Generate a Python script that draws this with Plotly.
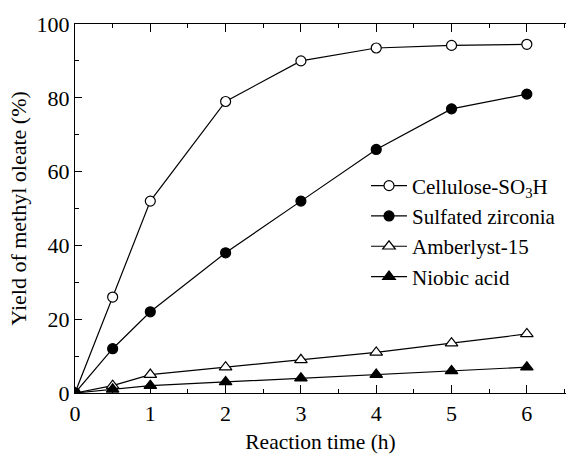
import plotly.graph_objects as go

time_h = [0, 0.5, 1, 2, 3, 4, 5, 6]
cellulose = [0, 26, 52, 79, 90, 93.5, 94.2, 94.5]
zirconia = [0, 12, 22, 38, 52, 66, 77, 81]
amberlyst = [0, 2, 5, 7, 9, 11, 13.5, 16]
niobic = [0, 1, 2, 3, 4, 5, 6, 7]

series = [
    ("Cellulose-SO<sub>3</sub>H", cellulose, "circle", False, 10),
    ("Sulfated zirconia", zirconia, "circle", True, 10),
    ("Amberlyst-15", amberlyst, "triangle-up", False, 11),
    ("Niobic acid", niobic, "triangle-up", True, 11),
]

fig = go.Figure()
for name, ys, sym, filled, sz in series:
    fig.add_trace(go.Scatter(
        x=time_h, y=ys, name=name, mode="lines+markers",
        line=dict(color="black", width=1.2),
        marker=dict(symbol=sym, size=sz, color="black" if filled else "white",
                    line=dict(color="black", width=1.2)),
    ))

FONT = "'Liberation Serif', 'Times New Roman', serif"
fig.update_layout(
    width=566, height=454,
    margin=dict(l=75, r=0, t=24, b=61),
    paper_bgcolor="white", plot_bgcolor="white",
    font=dict(family=FONT, size=21, color="black"),
    showlegend=True,
    legend=dict(x=0.5927, y=0.6165, xanchor="left", yanchor="top",
                font=dict(size=21, family=FONT), bgcolor="rgba(0,0,0,0)",
                tracegroupgap=0, itemwidth=36),
    xaxis=dict(range=[0, 6.52], tickmode="array", tickvals=[0, 1, 2, 3, 4, 5, 6],
               ticks="inside", ticklen=8, tickwidth=1, tickcolor="black",
               minor=dict(tickvals=[0.5, 1.5, 2.5, 3.5, 4.5, 5.5, 6.5], ticks="inside", ticklen=4, tickcolor="black"),
               showline=True, linecolor="black", linewidth=1.3, mirror="ticks",
               showgrid=False, zeroline=False,
               title=dict(text="Reaction time (h)", font=dict(size=21.5, family=FONT), standoff=9),
               tickfont=dict(size=22, family=FONT)),
    yaxis=dict(range=[0, 100], tickmode="array", tickvals=[0, 20, 40, 60, 80, 100],
               ticks="inside", ticklen=7, tickwidth=1, tickcolor="black",
               minor=dict(tickvals=[10, 30, 50, 70, 90], ticks="inside", ticklen=4, tickcolor="black"),
               showline=True, linecolor="black", linewidth=1.3, mirror=False,
               showgrid=False, zeroline=False,
               title=dict(text="Yield of methyl oleate (%)", font=dict(size=22, family=FONT), standoff=3),
               tickfont=dict(size=22, family=FONT)),
)
fig.write_html("out.html")
